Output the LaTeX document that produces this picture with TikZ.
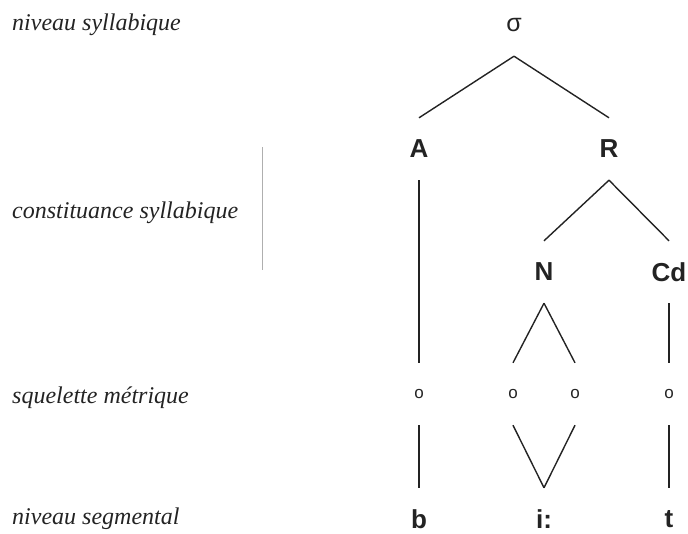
\documentclass[tikz,border=0pt]{standalone}
\usepackage{fontspec}
\setmainfont{Liberation Serif}
\newfontfamily\catfont{Liberation Sans}
\usepackage{tikz}
\usetikzlibrary{positioning}
\definecolor{ink}{RGB}{35, 35, 35}
\definecolor{rule}{RGB}{175, 175, 175}
\tikzstyle{cat} = [draw=none, fill=none, text=ink, text centered, font=\catfont\bfseries\fontsize{26}{26}\selectfont, minimum height=62pt, inner sep=0pt]
\tikzstyle{sig} = [cat, font=\catfont\fontsize{25}{25}\selectfont]
\tikzstyle{slot} = [cat, font=\catfont\fontsize{17}{17}\selectfont]
\tikzstyle{level} = [draw=none, fill=none, anchor=west, inner sep=0pt, text=ink, font=\itshape\fontsize{24}{24}\selectfont]
\tikzstyle{branch} = [draw=ink, line width=1.4pt]

\begin{document}
\begin{tikzpicture}[x=1pt, y=1pt, node distance=40pt, on grid]
\useasboundingbox (0,0) rectangle (688,-533);

% levels =============================
\node[level] (lsyl) at (12,-25) {niveau syllabique};
\node[level] (lconst) at (12,-213) {constituance syllabique};
\node[level] (lmet) at (12,-398) {squelette métrique};
\node[level] (lseg) at (12,-519) {niveau segmental};

\draw[rule, line width=1pt] (262,-147) -- (262,-270);

% tree =============================
\node[sig] (sigma) at (514,-25) {σ};
\node[cat, below left=124pt and 95pt of sigma] (A) {A};
\node[cat, right=190pt of A] (R) {R};
\node[cat, below left=123pt and 65pt of R] (N) {N};
\node[cat, right=125pt of N] (Cd) {Cd};

% skeleton
\node[slot, below=245pt of A] (xb) {o};
\node[slot, below left=122pt and 31pt of N] (xi1) {o};
\node[slot, right=62pt of xi1] (xi2) {o};
\node[slot, below=122pt of Cd] (xt) {o};

% segments
\node[cat, below=125pt of xb] (b) {b};
\node[cat, below right=125pt and 31pt of xi1] (ii) {i:};
\node[cat, below=125pt of xt] (t) {t};

% edges syllable
\draw[branch] (sigma.south) -- (A.north);
\draw[branch] (sigma.south) -- (R.north);
\draw[branch] (R.south) -- (N.north);
\draw[branch] (R.south) -- (Cd.north);

% edges skeleton
\draw[branch] (A.south) -- (xb.north);
\draw[branch] (N.south) -- (xi1.north);
\draw[branch] (N.south) -- (xi2.north);
\draw[branch] (Cd.south) -- (xt.north);

% edges segments
\draw[branch] (xb.south) -- (b.north);
\draw[branch] (xi1.south) -- (ii.north);
\draw[branch] (xi2.south) -- (ii.north);
\draw[branch] (xt.south) -- (t.north);

\end{tikzpicture}
\end{document}
